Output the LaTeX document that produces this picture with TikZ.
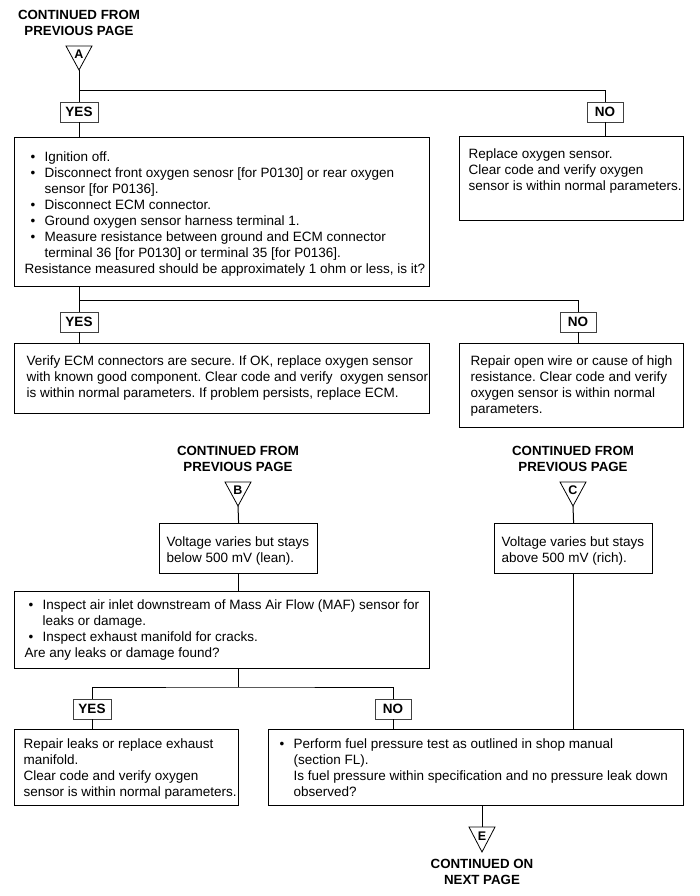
\documentclass[tikz,border=0pt]{standalone}
\usepackage{fontspec}
\setmainfont{Liberation Sans}
\frenchspacing
\newcommand{\bxt}[5]{\parbox[c][#2pt][t]{#1pt}{\raggedright\leftskip=#3pt\relax\rightskip=-40pt plus 1fil\relax\vspace*{#4pt}\strut #5}}
\newcommand{\bul}[1]{\hspace*{#1pt}\makebox[14pt][l]{•}}
\begin{document}
\begin{tikzpicture}[x=1pt,y=-1pt]
\tikzset{
 every node/.style={font=\fontsize{13.5}{16}\selectfont},
 box/.style={draw, line width=1.2pt, inner sep=0pt, anchor=north west},
 yn/.style={draw=black!75, line width=0.8pt, font=\fontsize{13.5}{16}\selectfont\bfseries, minimum height=20pt, minimum width=38pt, inner sep=0pt},
 cont/.style={font=\fontsize{13.3}{16}\selectfont\bfseries, align=center, inner sep=0pt},
 tri/.style={draw, line width=0.8pt, line join=miter},
 tlet/.style={font=\fontsize{12.5}{14}\selectfont\bfseries, inner sep=0pt},
 conn/.style={draw, line width=1pt},
}
\useasboundingbox (0,0) rectangle (700,896);

% ---- A ----
\node[cont] (cA) at (79,23) {CONTINUED FROM\\PREVIOUS PAGE};
\draw[tri] (66,46) -- (92,46) -- (79,70) -- cycle;
\coordinate (aA) at (79,70);
\node[tlet] (tA) at (79,54) {A};

\node[yn] (yes1) at (79,112) {YES};
\node[yn, minimum width=36pt] (no1) at (605,112) {NO};
\coordinate (j1) at (79,91);
\draw[conn] (aA) -- (yes1.north);
\draw[conn] (j1) -| (no1.north);

\node[box] (b1) at (14,137) {\bxt{415}{149}{10}{12.6}{%
\bul{6}Ignition off.\\
\bul{6}Disconnect front oxygen senosr [for P0130] or rear oxygen\\
\hspace*{20pt}sensor [for P0136].\\
\bul{6}Disconnect ECM connector.\\
\bul{6}Ground oxygen sensor harness terminal 1.\\
\bul{6}Measure resistance between ground and ECM connector\\
\hspace*{20pt}terminal 36 [for P0130] or terminal 35 [for P0136].\\
Resistance measured should be approximately 1 ohm or less, is it?}};
\draw[conn] (yes1.south) -- (yes1.south |- b1.north);

\node[box] (rep) at (459,136) {\bxt{224}{84}{9}{10.6}{Replace oxygen sensor.\\Clear code and verify oxygen\\sensor is within normal parameters.}};
\draw[conn] (no1.south) -- (no1.south |- rep.north);

% ---- second decision ----
\coordinate (j2) at (79,300);
\node[yn] (yes2) at (79,322) {YES};
\node[yn, minimum width=36pt] (no2) at (578,322) {NO};
\draw[conn] (b1.south -| j2) -- (yes2.north);
\draw[conn] (j2) -| (no2.north);

\node[box] (b2) at (14,343) {\bxt{415}{70}{12}{10.6}{Verify ECM connectors are secure. If OK, replace oxygen sensor\\with known good component. Clear code and verify\ \ oxygen sensor\\is within normal parameters. If problem persists, replace ECM.}};
\draw[conn] (yes2.south) -- (yes2.south |- b2.north);

\node[box] (b3) at (459,343) {\bxt{224}{84}{11}{10.6}{Repair open wire or cause of high\\resistance. Clear code and verify\\oxygen sensor is within normal\\parameters.}};
\draw[conn] (no2.south) -- (no2.south |- b3.north);

% ---- B ----
\node[cont] (cB) at (238,459) {CONTINUED FROM\\PREVIOUS PAGE};
\draw[tri] (225,482) -- (251,482) -- (238,506) -- cycle;
\coordinate (aB) at (238,506);
\node[tlet] (tB) at (238,490) {B};

\node[box] (vB) at (159,523) {\bxt{158}{50}{7}{11.6}{Voltage varies but stays\\below 500 mV (lean).}};
\draw[conn] (aB) -- (vB.north);

\node[box] (b4) at (14,591) {\bxt{415}{77}{10}{6.6}{%
\bul{4}Inspect air inlet downstream of Mass Air Flow (MAF) sensor for\\
\hspace*{18pt}leaks or damage.\\
\bul{4}Inspect exhaust manifold for cracks.\\
Are any leaks or damage found?}};
\draw[conn] (vB.south) -- (vB.south |- b4.north);

\coordinate (j3) at (238,687);
\node[yn] (yes3) at (92,709) {YES};
\node[yn, minimum width=36pt] (no3) at (393,709) {NO};
\draw[conn] (b4.south -| j3) -- (j3);
\draw[conn] (yes3.north) |- (j3) -| (no3.north);

\node[box] (b5) at (14,729) {\bxt{224}{76}{9}{7.6}{Repair leaks or replace exhaust\\manifold.\\Clear code and verify oxygen\\sensor is within normal parameters.}};
\draw[conn] (yes3.south) -- (yes3.south |- b5.north);

\node[box] (b6) at (268,729) {\bxt{415}{76}{11}{7.6}{%
\bul{0}Perform fuel pressure test as outlined in shop manual\\
\hspace*{14pt}(section FL).\\
\hspace*{14pt}Is fuel pressure within specification and no pressure leak down\\
\hspace*{14pt}observed?}};
\draw[conn] (no3.south) -- (no3.south |- b6.north);

% ---- C ----
\node[cont] (cC) at (573,459) {CONTINUED FROM\\PREVIOUS PAGE};
\draw[tri] (560,482) -- (586,482) -- (573,506) -- cycle;
\coordinate (aC) at (573,506);
\node[tlet] (tC) at (573,490) {C};

\node[box] (vC) at (494,523) {\bxt{158}{50}{7}{11.6}{Voltage varies but stays\\above 500 mV (rich).}};
\draw[conn] (aC) -- (vC.north);
\draw[conn] (vC.south) -- (vC.south |- b6.north);

% ---- E ----
\coordinate (eT) at (482,827);
\draw[conn] (b6.south -| eT) -- (eT);
\draw[tri] (469,827) -- (495,827) -- (482,852) -- cycle;
\node[tlet] (tE) at (482,836) {E};
\node[cont] (cE) at (482,872) {CONTINUED ON\\NEXT PAGE};
\end{tikzpicture}
\end{document}
